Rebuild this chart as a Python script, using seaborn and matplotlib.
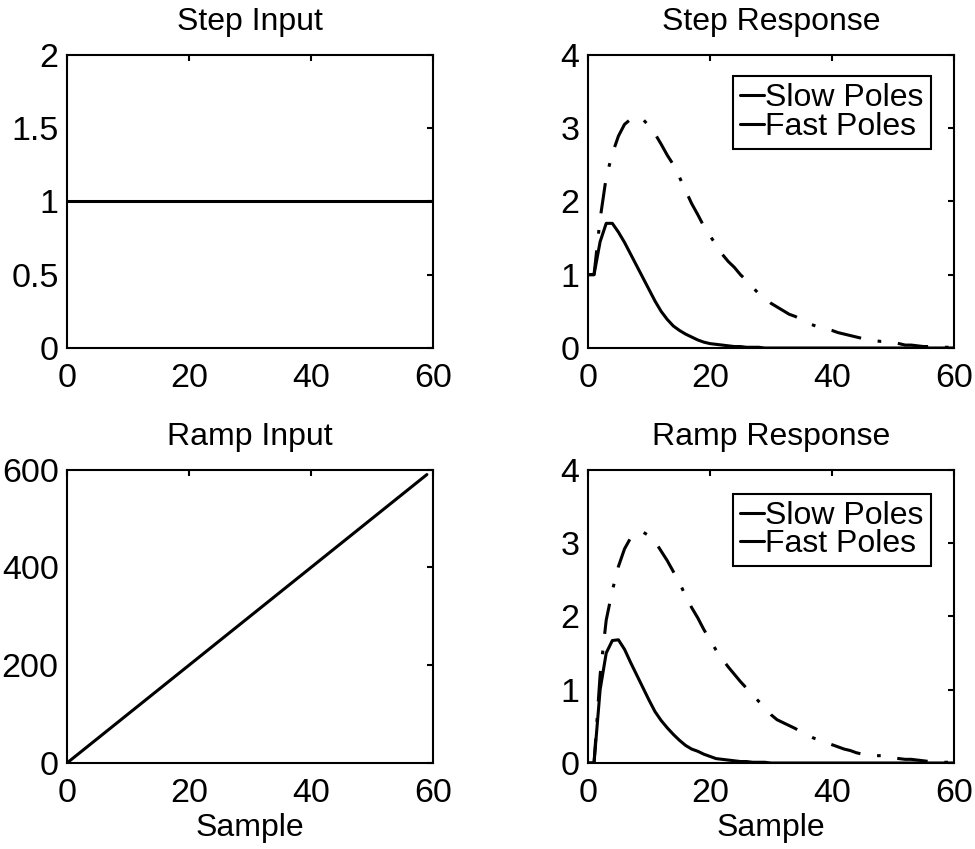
import numpy as np
import pandas as pd
import matplotlib
matplotlib.use("Agg")
import matplotlib.pyplot as plt
from matplotlib.lines import Line2D
import seaborn as sns

# sample index
samples = np.arange(61)

# inputs
step_input = [1, 1, 1, 1, 1, 1, 1, 1, 1, 1, 1, 1, 1, 1, 1, 1, 1, 1, 1, 1,
              1, 1, 1, 1, 1, 1, 1, 1, 1, 1, 1, 1, 1, 1, 1, 1, 1, 1, 1, 1,
              1, 1, 1, 1, 1, 1, 1, 1, 1, 1, 1, 1, 1, 1, 1, 1, 1, 1, 1, 1, 1]
ramp_input = [0, 10, 20, 30, 40, 50, 60, 70, 80, 90, 100, 110, 120, 130, 140,
              150, 160, 170, 180, 190, 200, 210, 220, 230, 240, 250, 260, 270,
              280, 290, 300, 310, 320, 330, 340, 350, 360, 370, 380, 390, 400,
              410, 420, 430, 440, 450, 460, 470, 480, 490, 500, 510, 520, 530,
              540, 550, 560, 570, 580, 590]

# responses
slow_step = [1.00, 1.00, 1.45, 1.70, 1.70, 1.58, 1.44, 1.28, 1.12, 0.96,
             0.80, 0.64, 0.50, 0.39, 0.30, 0.24, 0.19, 0.15, 0.11, 0.08,
             0.06, 0.05, 0.04, 0.03, 0.02, 0.02, 0.01, 0.01, 0.01, 0.00,
             0.00, 0.00, 0.00, 0.00, 0.00, 0.00, 0.00, 0.00, 0.00, 0.00,
             0.00, 0.00, 0.00, 0.00, 0.00, 0.00, 0.00, 0.00, 0.00, 0.00,
             0.00, 0.00, 0.00, 0.00, 0.00, 0.00, 0.00, 0.00, 0.00, 0.00, 0.00]
fast_step = [1.00, 1.00, 1.76, 2.33, 2.65, 2.89, 3.05, 3.12, 3.15, 3.12,
             3.03, 2.92, 2.78, 2.63, 2.50, 2.33, 2.15, 1.97, 1.82, 1.66,
             1.53, 1.41, 1.28, 1.18, 1.10, 1.00, 0.92, 0.83, 0.74, 0.68,
             0.61, 0.56, 0.51, 0.46, 0.43, 0.39, 0.34, 0.31, 0.28, 0.26,
             0.24, 0.21, 0.19, 0.17, 0.15, 0.13, 0.11, 0.10, 0.09, 0.09,
             0.08, 0.06, 0.04, 0.04, 0.03, 0.02, 0.02, 0.01, 0.01, 0.01, 0.01]
slow_ramp = [0.00, 0.00, 1.00, 1.50, 1.67, 1.68, 1.55, 1.37, 1.20, 1.03,
             0.86, 0.70, 0.58, 0.48, 0.39, 0.31, 0.24, 0.19, 0.16, 0.12,
             0.09, 0.06, 0.05, 0.04, 0.03, 0.02, 0.02, 0.01, 0.01, 0.01,
             0.00, 0.00, 0.00, 0.00, 0.00, 0.00, 0.00, 0.00, 0.00, 0.00,
             0.00, 0.00, 0.00, 0.00, 0.00, 0.00, 0.00, 0.00, 0.00, 0.00,
             0.00, 0.00, 0.00, 0.00, 0.00, 0.00, 0.00, 0.00, 0.00, 0.00, 0.00]
fast_ramp = [0.00, 0.00, 1.20, 1.95, 2.35, 2.68, 2.92, 3.07, 3.14, 3.15,
             3.10, 3.02, 2.89, 2.76, 2.61, 2.46, 2.28, 2.12, 1.98, 1.82,
             1.68, 1.54, 1.42, 1.31, 1.21, 1.11, 1.02, 0.93, 0.84, 0.76,
             0.66, 0.59, 0.55, 0.51, 0.47, 0.42, 0.38, 0.34, 0.31, 0.28,
             0.25, 0.22, 0.19, 0.17, 0.14, 0.12, 0.11, 0.10, 0.10, 0.08,
             0.07, 0.06, 0.05, 0.05, 0.04, 0.03, 0.02, 0.02, 0.01, 0.01, 0.01]

series_names = ["Slow Poles", "Fast Poles"]

sns.set_theme(style="white")
plt.rcParams["font.family"] = ["Liberation Sans", "DejaVu Sans"]
plt.rcParams["axes.linewidth"] = 1.5
plt.rcParams["axes.edgecolor"] = "black"
plt.rcParams["text.color"] = "black"
plt.rcParams["axes.labelcolor"] = "black"
plt.rcParams["axes.titlecolor"] = "black"

fig = plt.figure(figsize=(9.75, 8.49), dpi=100)
col_left = [0.0687, 0.603]
col_w = 0.3754
row_bottom = [0.5901, 0.1013]
row_h = 0.3455

LW = 2.2
TXT = 23


def make_ax(r, c):
    ax = fig.add_axes([col_left[c], row_bottom[r], col_w, row_h])
    ax.tick_params(direction="in", length=4, width=1.5, top=True, right=True,
                   labelsize=24.5, colors="black")
    ax.tick_params(axis="x", pad=11)
    ax.tick_params(axis="y", pad=6)
    ax.set_xlim(0, 60)
    ax.set_xticks([0, 20, 40, 60])
    return ax


def response_df(slow, fast):
    return pd.DataFrame({
        "Sample": np.concatenate([samples, samples]),
        "value": slow + fast,
        "series": [series_names[0]] * len(slow) + [series_names[1]] * len(fast),
    })


# Step Input
ax = make_ax(0, 0)
sns.lineplot(x=samples, y=step_input, ax=ax, color="black", linewidth=LW)
ax.set_ylim(0, 2)
ax.set_yticks([0, 0.5, 1, 1.5, 2])
ax.set_yticklabels(["0", "0.5", "1", "1.5", "2"])
ax.set_title("Step Input", fontsize=TXT, pad=18)

# Ramp Input
ax = make_ax(1, 0)
sns.lineplot(x=samples[:len(ramp_input)], y=ramp_input, ax=ax, color="black", linewidth=LW)
ax.set_ylim(0, 600)
ax.set_yticks([0, 200, 400, 600])
ax.set_title("Ramp Input", fontsize=TXT, pad=18)
ax.set_xlabel("Sample", fontsize=TXT, labelpad=3)

# responses
for r, (title, slow, fast, anchor_y) in enumerate([
        ("Step Response", slow_step, fast_step, 0.926),
        ("Ramp Response", slow_ramp, fast_ramp, 0.918)]):
    ax = make_ax(r, 1)
    df = response_df(slow, fast)
    sns.lineplot(data=df, x="Sample", y="value", style="series", ax=ax,
                 color="black", linewidth=LW,
                 dashes={series_names[0]: "", series_names[1]: (10, 5.5, 1.2, 5.5)},
                 legend=False)
    ax.set_ylim(0, 4)
    ax.set_yticks([0, 1, 2, 3, 4])
    ax.set_title(title, fontsize=TXT, pad=18)
    ax.set_ylabel("")
    if r == 1:
        ax.set_xlabel("Sample", fontsize=TXT, labelpad=3)
    else:
        ax.set_xlabel("")
    handles = [Line2D([], [], color="black", linewidth=LW) for _ in series_names]
    leg = ax.legend(handles, series_names, loc="upper right",
                    bbox_to_anchor=(0.937, anchor_y), borderaxespad=0,
                    fontsize=TXT, handlelength=0.75, handletextpad=0.05,
                    labelspacing=-0.05, borderpad=0.22, fancybox=False,
                    framealpha=1, edgecolor="black")
    leg.get_frame().set_linewidth(1.5)

fig.savefig("out.png", dpi=100, facecolor="white")
